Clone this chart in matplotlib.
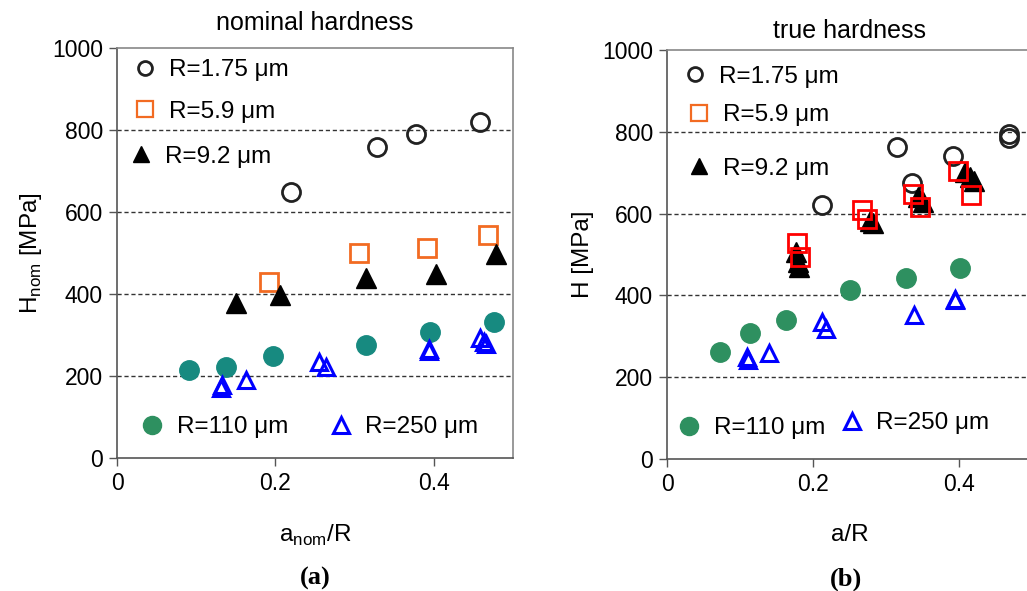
import numpy as np
import matplotlib
matplotlib.use('Agg')
from matplotlib import pyplot as plt
from matplotlib.lines import Line2D
from matplotlib.legend import Legend

plt.rcParams['font.family'] = ['Liberation Sans', 'DejaVu Sans']
plt.rcParams['mathtext.fontset'] = 'custom'
plt.rcParams['mathtext.rm'] = 'Liberation Sans'

# ---- (a) nominal hardness ----
a_c_x = [0.220, 0.328, 0.378, 0.458]
a_c_y = [650, 758, 790, 820]
a_s_x = [0.192, 0.305, 0.391, 0.469]
a_s_y = [430, 499, 511, 545]
a_t_x = [0.150, 0.206, 0.315, 0.403, 0.479]
a_t_y = [377, 398, 438, 450, 497]
a_g_x = [0.091, 0.138, 0.197, 0.314, 0.395, 0.476]
a_g_y = [215, 223, 249, 276, 308, 331]
a_b_x = [0.132, 0.131, 0.163, 0.255, 0.264, 0.394, 0.394, 0.458, 0.464, 0.466]
a_b_y = [178, 170, 190, 235, 223, 267, 260, 292, 284, 278]

# ---- (b) true hardness ----
b_c_x = [0.213, 0.315, 0.335, 0.392, 0.468, 0.469]
b_c_y = [622, 763, 674, 741, 794, 786]
b_s_x = [0.178, 0.182, 0.267, 0.274, 0.337, 0.346, 0.399, 0.416]
b_s_y = [528, 495, 609, 587, 648, 615, 705, 646]
b_t_x = [0.177, 0.180, 0.181, 0.278, 0.282, 0.344, 0.350, 0.408, 0.415, 0.420]
b_t_y = [505, 482, 470, 583, 576, 640, 628, 702, 690, 680]
b_g_x = [0.073, 0.114, 0.163, 0.251, 0.327, 0.401]
b_g_y = [262, 308, 341, 412, 442, 467]
b_b_x = [0.110, 0.111, 0.140, 0.212, 0.218, 0.338, 0.394, 0.395]
b_b_y = [250, 243, 259, 335, 319, 351, 392, 388]

labels = ['R=1.75 \u03bcm', 'R=5.9 \u03bcm', 'R=9.2 \u03bcm', 'R=110 \u03bcm', 'R=250 \u03bcm']

teal = '#178a80'
sea = '#2e9060'
orange = '#f26b22'

fig = plt.figure(figsize=(10.27, 5.91), dpi=100)
ax1 = fig.add_axes([117/1027, 1-458/591, 396/1027, 410/591])
ax2 = fig.add_axes([667/1027, 1-459/591, 365/1027, 409/591])


def style(ax):
    ax.set_xlim(0, 0.5)
    ax.set_ylim(0, 1000)
    ax.set_xticks([0, 0.2, 0.4])
    ax.set_xticklabels(['0', '0.2', '0.4'])
    ax.set_yticks([0, 200, 400, 600, 800, 1000])
    ax.tick_params(direction='out', length=6, width=1, labelsize=16.5, color='#555555', pad=4)
    for y in [200, 400, 600, 800]:
        ax.axhline(y, color='#333333', lw=1, ls=(0, (3, 2)), zorder=0)
    for s in ['left', 'bottom']:
        ax.spines[s].set_color('#555555')
        ax.spines[s].set_linewidth(1.2)
    for s in ['top', 'right']:
        ax.spines[s].set_color('#888888')
        ax.spines[s].set_linewidth(1.2)


def leg(ax, handle, label, x, y):
    lg = Legend(ax, [handle], [label], loc='center left', bbox_to_anchor=(x, y),
                frameon=False, fontsize=17.5, handlelength=0.8, handletextpad=0.6,
                borderaxespad=0, borderpad=0)
    ax.add_artist(lg)


style(ax1)
ax1.plot(a_c_x, a_c_y, 'o', ms=13, mfc='none', mec='#222222', mew=2)
ax1.plot(a_s_x, a_s_y, 's', ms=13, mfc='none', mec=orange, mew=2)
ax1.plot(a_t_x, a_t_y, '^', ms=14, color='black')
ax1.plot(a_g_x, a_g_y, 'o', ms=14, color=teal)
ax1.plot(a_b_x, a_b_y, '^', ms=12, mfc='none', mec='#0000ff', mew=2.2)

h_c = Line2D([], [], ls='none', marker='o', ms=10, mfc='none', mec='#222222', mew=2)
h_s = Line2D([], [], ls='none', marker='s', ms=11, mfc='none', mec=orange, mew=1.6)
h_t = Line2D([], [], ls='none', marker='^', ms=12, color='black')
h_g = Line2D([], [], ls='none', marker='o', ms=13, color=sea)
h_b = Line2D([], [], ls='none', marker='^', ms=11, mfc='none', mec='#0000ff', mew=2.2)

leg(ax1, h_c, labels[0], 0.045, 0.946)
leg(ax1, h_s, labels[1], 0.045, 0.845)
leg(ax1, h_t, labels[2], 0.035, 0.735)
leg(ax1, h_g, labels[3], 0.065, 0.075)
leg(ax1, h_b, labels[4], 0.54, 0.075)

ax1.set_title('nominal hardness', fontsize=18, pad=13)
ax1.set_xlabel('a$_{\\mathrm{nom}}$/R', fontsize=17.5, labelpad=20)
ax1.set_ylabel('H$_{\\mathrm{nom}}$ [MPa]', fontsize=17.5, labelpad=6)
ax1.text(0.5, -0.295, '(a)', transform=ax1.transAxes, ha='center', va='center',
         fontsize=19, fontweight='bold', family='Liberation Serif')

style(ax2)
ax2.plot(b_c_x, b_c_y, 'o', ms=13, mfc='none', mec='#222222', mew=2)
ax2.plot(b_t_x, b_t_y, '^', ms=14, color='black')
ax2.plot(b_s_x, b_s_y, 's', ms=13, mfc='none', mec='#ff0000', mew=2)
ax2.plot(b_g_x, b_g_y, 'o', ms=14, color=sea)
ax2.plot(b_b_x, b_b_y, '^', ms=12, mfc='none', mec='#0000ff', mew=2.2)

leg(ax2, h_c, labels[0], 0.05, 0.935)
leg(ax2, h_s, labels[1], 0.06, 0.84)
leg(ax2, h_t, labels[2], 0.06, 0.71)
leg(ax2, h_g, labels[3], 0.035, 0.075)
leg(ax2, h_b, labels[4], 0.48, 0.087)

ax2.set_title('true hardness', fontsize=18, pad=9)
ax2.set_xlabel('a/R', fontsize=17.5, labelpad=20)
ax2.set_ylabel('H [MPa]', fontsize=17.5, labelpad=6)
ax2.text(0.49, -0.295, '(b)', transform=ax2.transAxes,
         ha='center', va='center', fontsize=19, fontweight='bold', family='Liberation Serif')

fig.savefig('out.png', dpi=100)
